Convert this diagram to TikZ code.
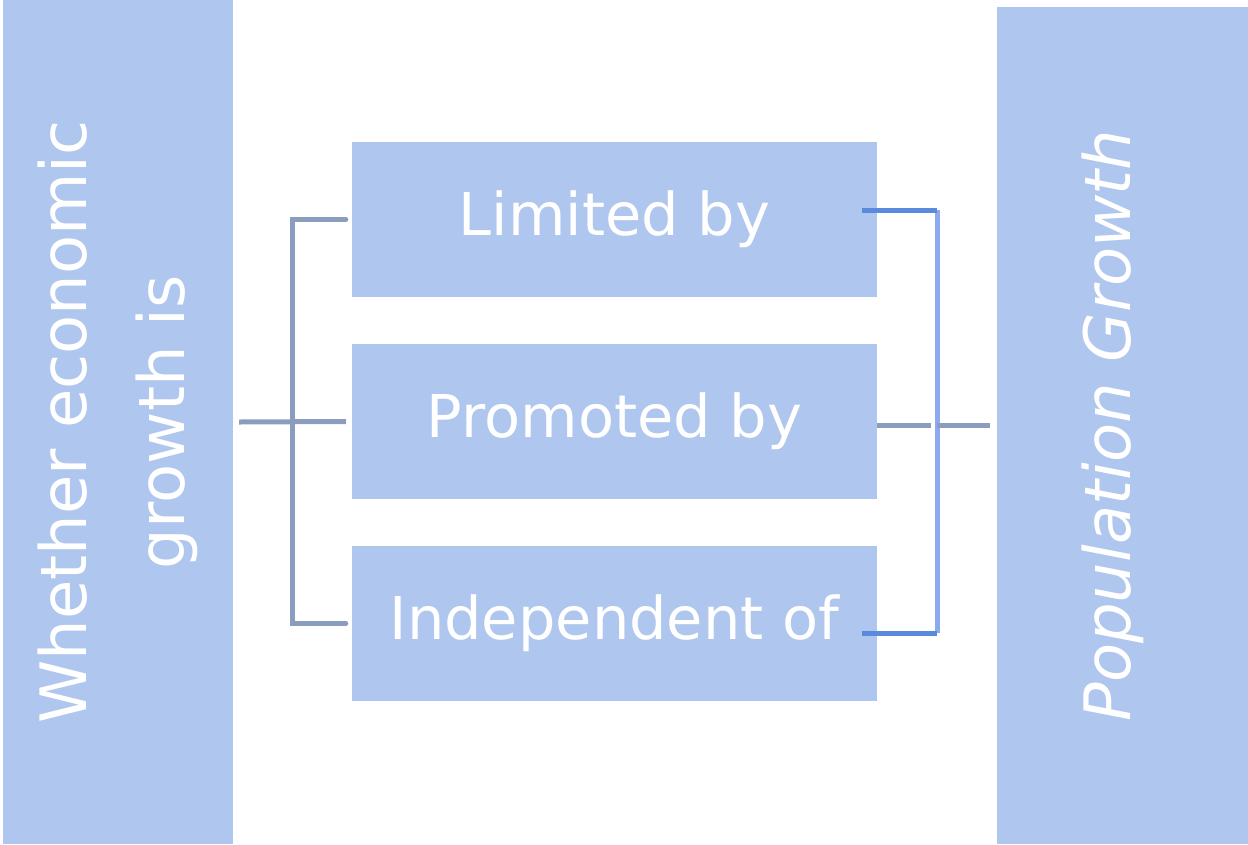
\documentclass[tikz,border=0pt]{standalone}
\usepackage{fontspec}
\setmainfont{DejaVu Sans}
\definecolor{boxfill}{HTML}{AFC6EE}
\definecolor{grayline}{HTML}{8A9DBF}
\definecolor{blueline}{HTML}{5A8ADE}
\definecolor{barline}{HTML}{8DA9F0}
\begin{document}
\begin{tikzpicture}[x=1pt,y=-1pt,
  box/.style={fill=boxfill,draw=none,text=white,inner sep=0pt,align=center},
  midbox/.style={box,minimum width=525pt,minimum height=155pt,font=\fontsize{59}{70}\selectfont},
  gline/.style={draw=grayline,line width=5pt},
  bline/.style={draw=blueline,line width=5pt},
  vbar/.style={draw=barline,line width=5pt}]
\useasboundingbox (0,0) rectangle (1248,844);
\node[box,rotate=90,minimum width=844pt,minimum height=230pt,font=\fontsize{64}{98}\selectfont] (L) at (118,422) {Whether economic\\growth is};
\node[box,rotate=90,minimum width=837pt,minimum height=251pt,font=\fontsize{64}{72}\selectfont\itshape] (R) at (1122.5,425.5) {\raisebox{10pt}[\height][\depth]{Population Growth}};
\node[midbox] (A) at (614.5,219.5) {Limited by};
\node[midbox] (B) at (614.5,421.5) {Promoted by};
\node[midbox] (C) at (614.5,623.5) {Independent of};
% left connector (L is rotated: its south side faces right)
\coordinate (lb) at (292,422);
\draw[gline] ([xshift=6pt]L.south |- lb) -- ([xshift=-6pt]B.west);
\draw[gline,line cap=round] ([xshift=-6pt]A.west) -- (lb |- A.west) -- (lb |- C.west) -- ([xshift=-6pt]C.west);
% right connector (R is rotated: its north side faces left)
\coordinate (rb) at (937,425);
\draw[vbar] (rb |- 0,210) -- (rb |- 0,633);
\draw[bline] ([xshift=-15pt,yshift=9.5pt]A.east) -- (rb |- 0,210);
\draw[bline] ([xshift=-15pt,yshift=-9.5pt]C.east) -- (rb |- 0,633);
\draw[gline] (B.east |- rb) -- ([xshift=-6pt]rb);
\draw[gline] (rb) -- ([xshift=-7pt]R.north |- rb);
\end{tikzpicture}
\end{document}
